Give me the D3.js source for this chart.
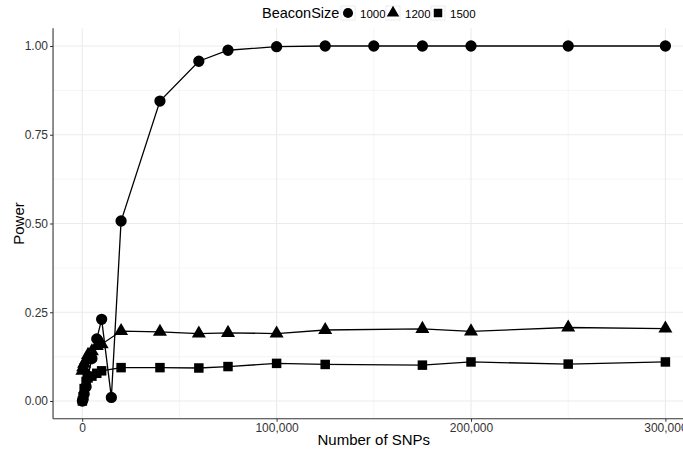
<!DOCTYPE html>
<html>
<head>
<meta charset="utf-8">
<script src="https://cdn.jsdelivr.net/npm/d3@7"></script>
<style>
  body { margin: 0; background: #fff; overflow: hidden; }
  svg { font-family: "Liberation Sans", Arial, sans-serif; }
</style>
</head>
<body>
<svg id="chart" width="683" height="453"></svg>
<script>
// SNP counts
var snps1000 = [100, 500, 1000, 2000, 3000, 5000, 7500, 10000, 15000, 20000, 40000, 60000, 75000, 100000, 125000, 150000, 175000, 200000, 250000, 300000];
var snpsOther = [100, 500, 1000, 2000, 3000, 5000, 7500, 10000, 20000, 40000, 60000, 75000, 100000, 125000, 175000, 200000, 250000, 300000];

// power for each beacon size
var power1000 = [0.0, 0.005, 0.02, 0.04, 0.07, 0.12, 0.175, 0.23, 0.01, 0.507, 0.845, 0.957, 0.988, 0.998, 1.0, 1.0, 1.0, 1.0, 1.0, 1.0];
var power1200 = [0.085, 0.095, 0.105, 0.115, 0.13, 0.14, 0.155, 0.16, 0.197, 0.195, 0.19, 0.192, 0.19, 0.2, 0.203, 0.196, 0.207, 0.204];
var power1500 = [0.0, 0.012, 0.035, 0.055, 0.065, 0.07, 0.078, 0.085, 0.094, 0.094, 0.093, 0.097, 0.106, 0.103, 0.101, 0.11, 0.104, 0.11];

var sizes = ['1000', '1200', '1500'];
var xTicks = [0, 100000, 200000, 300000];
var yTicks = [0, 0.25, 0.5, 0.75, 1];

var series = [
  { label: '1000', shape: d3.symbolCircle, x: snps1000, y: power1000 },
  { label: '1200', shape: d3.symbolTriangle, x: snpsOther, y: power1200 },
  { label: '1500', shape: d3.symbolSquare, x: snpsOther, y: power1500 }
];

var svg = d3.select('#chart');

var x = d3.scaleLinear().domain([0, 300000]).range([82.2, 665.4]);
var y = d3.scaleLinear().domain([0, 1]).range([401, 46]);

// panel with 5% expansion
var panelLeft = x(-15000), panelRight = x(315000);
var panelTop = y(1.05), panelBottom = y(-0.05);

var grid = svg.append('g');
// minor grid
grid.selectAll('.minx')
  .data([50000, 150000, 250000])
  .enter().append('line')
  .attr('x1', function(d) { return x(d); }).attr('x2', function(d) { return x(d); })
  .attr('y1', panelTop).attr('y2', panelBottom)
  .attr('stroke', '#f2f2f2').attr('stroke-width', 0.8);
grid.selectAll('.miny')
  .data([0.125, 0.375, 0.625, 0.875])
  .enter().append('line')
  .attr('x1', panelLeft).attr('x2', panelRight)
  .attr('y1', function(d) { return y(d); }).attr('y2', function(d) { return y(d); })
  .attr('stroke', '#f2f2f2').attr('stroke-width', 0.8);
// major grid
grid.selectAll('.majx')
  .data(xTicks)
  .enter().append('line')
  .attr('x1', function(d) { return x(d); }).attr('x2', function(d) { return x(d); })
  .attr('y1', panelTop).attr('y2', panelBottom)
  .attr('stroke', '#ebebeb').attr('stroke-width', 1.1);
grid.selectAll('.majy')
  .data(yTicks)
  .enter().append('line')
  .attr('x1', panelLeft).attr('x2', panelRight)
  .attr('y1', function(d) { return y(d); }).attr('y2', function(d) { return y(d); })
  .attr('stroke', '#ebebeb').attr('stroke-width', 1.1);

// axes
var fmt = d3.format(',');
var xAxis = svg.append('g')
  .attr('transform', 'translate(0,' + panelBottom + ')')
  .call(d3.axisBottom(x).tickValues(xTicks).tickFormat(fmt).tickSize(3).tickPadding(2));
var yAxis = svg.append('g')
  .attr('transform', 'translate(' + panelLeft + ',0)')
  .call(d3.axisLeft(y).tickValues(yTicks).tickFormat(d3.format('.2f')).tickSize(3).tickPadding(2));

[xAxis, yAxis].forEach(function(a) {
  a.select('.domain').remove();
  a.selectAll('.tick line').attr('stroke', '#333');
  a.selectAll('.tick text').attr('fill', '#333').style('font-size', '12px').style('font-family', '"Liberation Sans", Arial, sans-serif');
});

svg.append('line')
  .attr('x1', panelLeft).attr('x2', panelLeft).attr('y1', panelTop).attr('y2', panelBottom)
  .attr('stroke', '#333').attr('stroke-width', 1.1);
svg.append('line')
  .attr('x1', panelLeft).attr('x2', panelRight).attr('y1', panelBottom).attr('y2', panelBottom)
  .attr('stroke', '#333').attr('stroke-width', 1.1);

// lines and points
var line = d3.line()
  .x(function(d) { return x(d[0]); })
  .y(function(d) { return y(d[1]); });

series.forEach(function(s) {
  var pts = s.x.map(function(v, i) { return [v, s.y[i]]; });
  svg.append('path')
    .datum(pts)
    .attr('d', line)
    .attr('fill', 'none')
    .attr('stroke', '#000')
    .attr('stroke-width', 1.3);
});

var symSize = { '1000': 100, '1200': 85, '1500': 90 };
series.forEach(function(s) {
  var pts = s.x.map(function(v, i) { return [v, s.y[i]]; });
  svg.append('g').selectAll('path')
    .data(pts)
    .enter().append('path')
    .attr('transform', function(d) { return 'translate(' + x(d[0]) + ',' + y(d[1]) + ')'; })
    .attr('d', d3.symbol().type(s.shape).size(symSize[s.label]))
    .attr('fill', '#000');
});

// axis titles
svg.append('text')
  .attr('x', (panelLeft + panelRight) / 2)
  .attr('y', 445)
  .attr('text-anchor', 'middle')
  .style('font-size', '15px')
  .text('Number of SNPs');
svg.append('text')
  .attr('transform', 'translate(24,' + ((panelTop + panelBottom) / 2) + ') rotate(-90)')
  .attr('text-anchor', 'middle')
  .style('font-size', '15px')
  .text('Power');

// legend
var legend = svg.append('g');
legend.append('text')
  .attr('x', 262).attr('y', 18)
  .style('font-size', '14.5px')
  .text('BeaconSize');
var keyX = [341, 386, 431];
series.forEach(function(s, i) {
  var g = legend.append('g').attr('transform', 'translate(' + keyX[i] + ',6)');
  g.append('rect')
    .attr('width', 14).attr('height', 14)
    .attr('fill', '#fff').attr('stroke', '#ececec');
  g.append('path')
    .attr('transform', 'translate(7,7)')
    .attr('d', d3.symbol().type(s.shape).size(symSize[s.label] * 0.8))
    .attr('fill', '#000');
  g.append('text')
    .attr('x', 19).attr('y', 12)
    .style('font-size', '11.5px')
    .text(sizes[i]);
});
</script>
</body>
</html>
